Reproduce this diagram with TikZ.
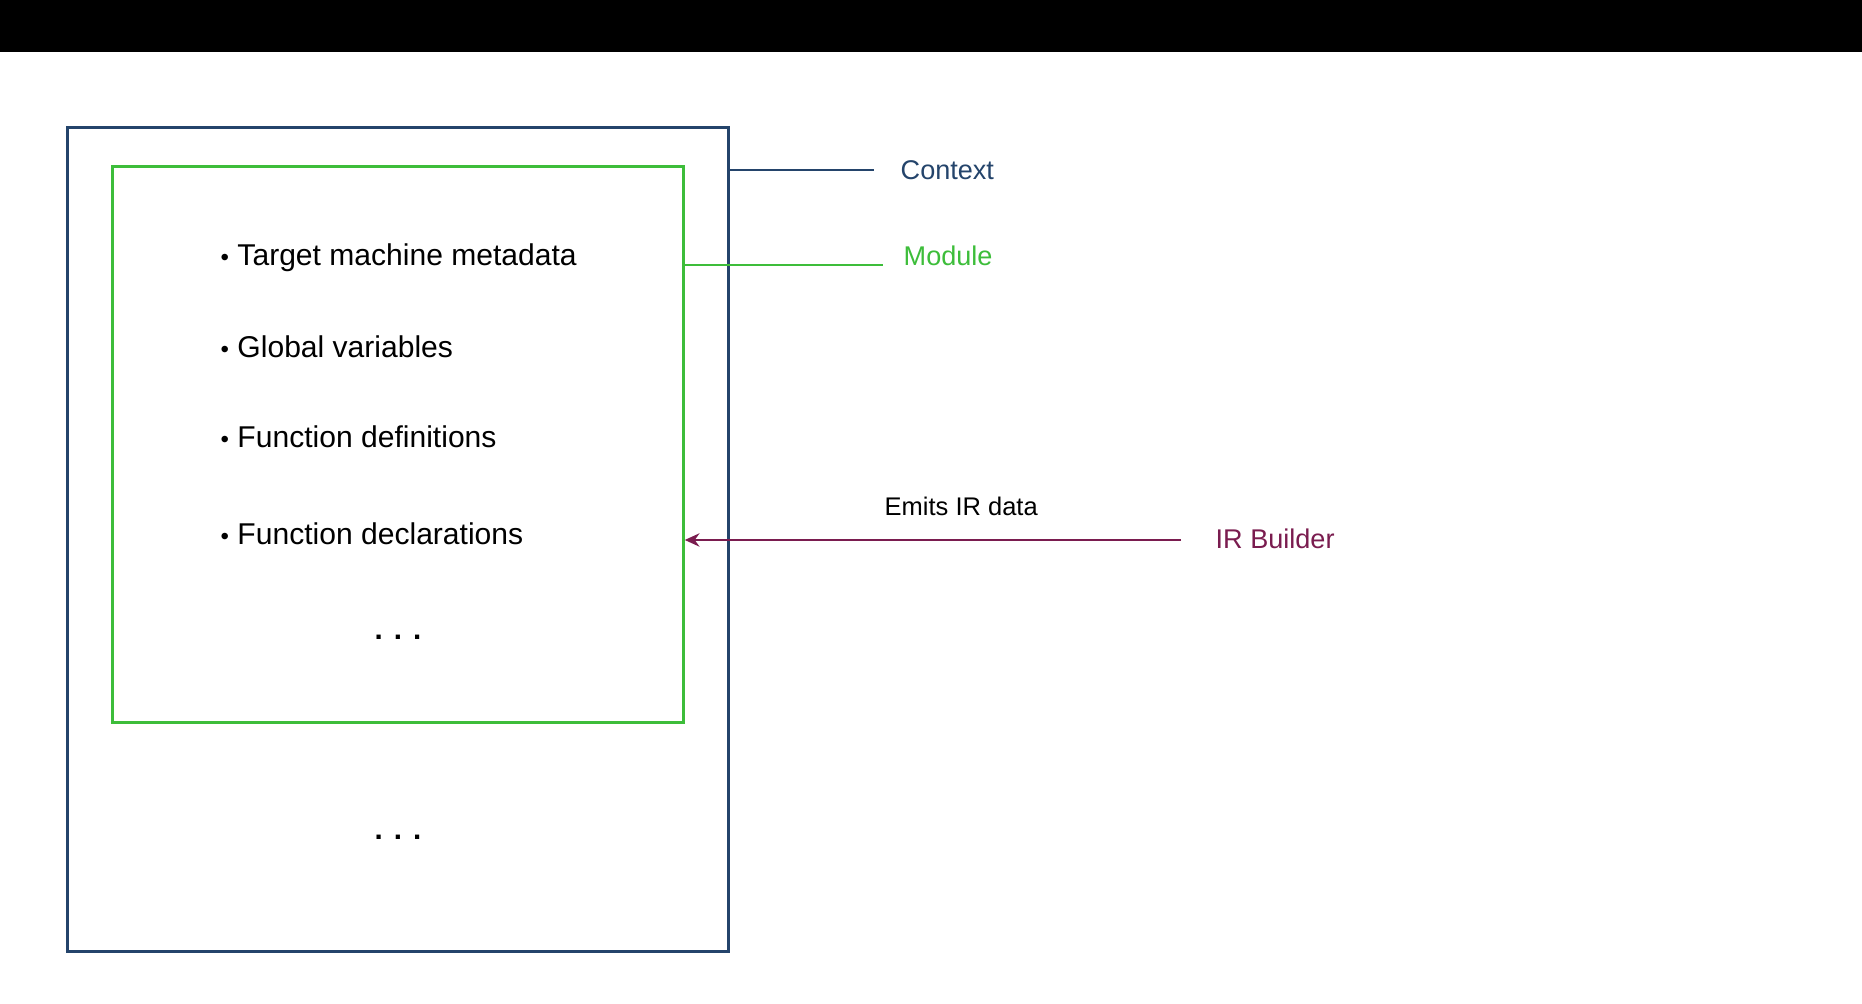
\documentclass[tikz,border=0pt]{standalone}
\usepackage{fontspec}
\setmainfont{Liberation Sans}
\usetikzlibrary{arrows.meta, positioning}
\definecolor{ctxBlue}{HTML}{24446B}
\definecolor{modGreen}{HTML}{3DBD3A}
\definecolor{irMaroon}{HTML}{7A1C4F}
\tikzset{
  % boxes are drawn as empty nodes so the connectors can hang off their edges
  ctxbox/.style  = {draw=ctxBlue, line width=0.9pt, inner sep=0pt,
                    minimum width=6.6cm, minimum height=8.23cm},
  modbox/.style  = {draw=modGreen, line width=0.9pt, inner sep=0pt,
                    minimum width=5.7cm, minimum height=5.55cm},
  item/.style    = {font=\fontsize{8.55}{10}\selectfont, anchor=base west, inner sep=0pt},
  dots/.style    = {font=\bfseries\fontsize{8.4}{10}\selectfont, anchor=base, inner sep=0pt},
  lbl/.style     = {font=\fontsize{7.7}{9}\selectfont, anchor=base west, inner sep=0pt},
  ctxline/.style = {ctxBlue, line width=0.6pt},
  modline/.style = {modGreen, line width=0.7pt},
  emit/.style    = {-{Stealth[length=4.2pt, width=3.8pt]}, irMaroon, line width=0.6pt},
}

\begin{document}
\begin{tikzpicture}[x=0.01cm, y=-0.01cm]
  \useasboundingbox (0,0) rectangle (1862,1004);
  % screen band along the top
  \fill[black] (0,0) rectangle (1862,52);
  % --- context and module ---------------------------------------------
  \node[ctxbox] (ctx) at (398,539.5) {};
  \node[modbox] (mod) at (398,444.5) {};
  \foreach \y/\txt [count=\i] in {266/Target machine metadata, 358/Global variables,
                                  448/Function definitions, 545/Function declarations}
    \node[item] (item\i) at (220,\y) {{\scalebox{0.8}{\textbullet}}\ \txt};
  \node[dots] (moddots) at (398,640) {. . .};
  \node[dots] (ctxdots) at (398,840) {. . .};
  % --- side labels -----------------------------------------------------
  \coordinate (ctxend) at (874,170);
  \coordinate (modend) at (883,265);
  \coordinate (irend) at (1181,540);
  \node[lbl, ctxBlue] (ctxlbl) at (900,180) {Context};
  \node[lbl, modGreen] (modlbl) at (903,266) {Module};
  \node[lbl, irMaroon] (irlbl) at (1215,549) {IR Builder};
  \draw[ctxline] (ctx.east |- ctxend) -- (ctxend);
  \draw[modline] (mod.east |- modend) -- (modend);
  % --- builder feeding the module --------------------------------------
  \draw[emit] (irend) -- (mod.east |- irend);
  \node[lbl, font=\fontsize{7.25}{9}\selectfont] (emitlbl) at (884,516) {Emits IR data};
\end{tikzpicture}
\end{document}
